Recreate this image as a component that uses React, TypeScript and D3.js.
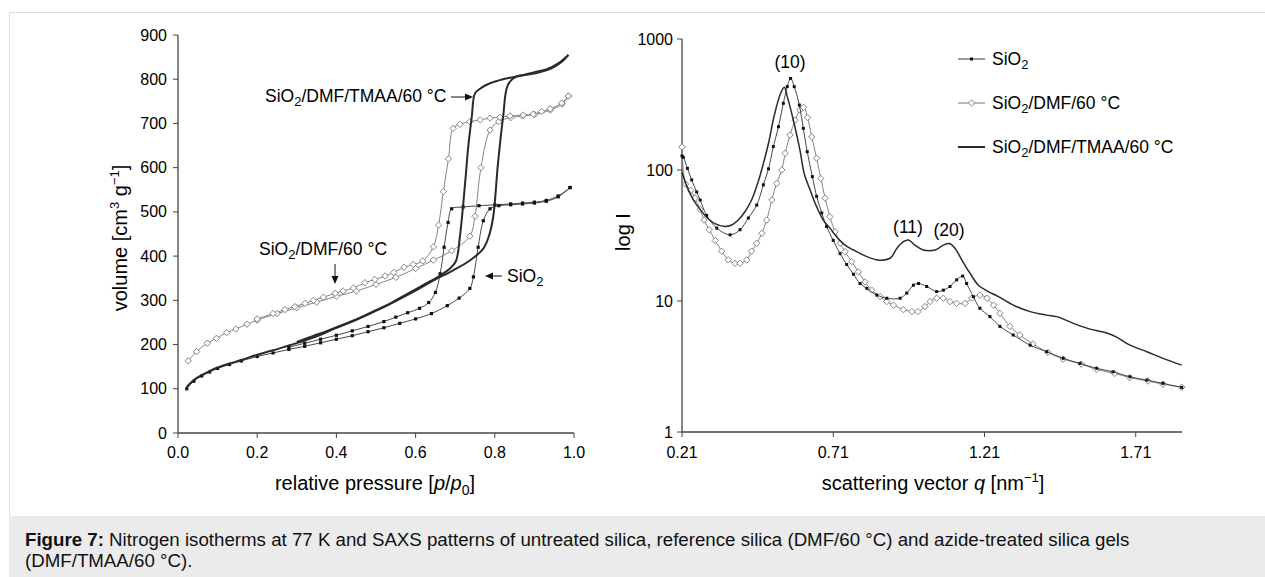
import React from "react";
import * as d3 from "d3";

// ---- isotherms (relative pressure, volume) ----
const sio2Ads: [number, number][] = [
  [0.022, 100], [0.04, 117], [0.06, 129], [0.08, 138], [0.1, 146], [0.13, 155], [0.16, 163],
  [0.2, 173], [0.24, 181], [0.28, 189], [0.32, 196], [0.36, 204], [0.4, 212], [0.44, 220],
  [0.48, 229], [0.52, 238], [0.56, 248], [0.6, 258], [0.64, 270], [0.68, 288], [0.71, 305],
  [0.737, 327], [0.746, 353], [0.758, 420], [0.771, 480], [0.788, 507], [0.81, 514],
  [0.84, 516], [0.87, 518], [0.9, 520], [0.93, 524], [0.96, 534], [0.99, 555],
];
const sio2Des: [number, number][] = [
  [0.99, 555], [0.96, 536], [0.93, 526], [0.9, 522], [0.87, 520], [0.84, 518], [0.8, 516],
  [0.76, 514], [0.72, 511], [0.691, 507], [0.682, 476], [0.672, 420], [0.662, 360],
  [0.65, 318], [0.633, 295], [0.61, 282], [0.58, 272], [0.55, 262], [0.52, 252], [0.48, 241],
  [0.44, 231], [0.4, 221], [0.36, 212], [0.32, 203], [0.28, 194],
];
const dmfAds: [number, number][] = [
  [0.026, 163], [0.047, 184], [0.074, 203], [0.097, 214], [0.123, 227], [0.146, 235],
  [0.174, 246], [0.2, 255], [0.25, 270], [0.3, 283], [0.35, 296], [0.4, 309], [0.45, 321],
  [0.5, 336], [0.55, 352], [0.6, 372], [0.645, 391], [0.691, 412], [0.737, 445], [0.75, 490],
  [0.765, 600], [0.788, 685], [0.81, 704], [0.84, 713], [0.87, 717], [0.9, 720], [0.94, 730],
  [0.97, 744], [0.986, 762],
];
const dmfDes: [number, number][] = [
  [0.986, 762], [0.969, 746], [0.94, 733], [0.918, 727], [0.897, 721], [0.872, 719],
  [0.838, 717], [0.813, 714], [0.788, 712], [0.763, 708], [0.737, 704], [0.712, 698],
  [0.695, 689], [0.683, 620], [0.67, 546], [0.658, 470], [0.645, 421], [0.618, 389],
  [0.594, 381], [0.571, 375], [0.545, 363], [0.523, 355], [0.497, 347], [0.472, 340],
  [0.443, 328], [0.417, 321], [0.397, 316], [0.367, 307], [0.342, 300], [0.321, 293],
  [0.295, 286], [0.27, 279], [0.24, 270], [0.2, 258],
];
const tmaaAds: [number, number][] = [
  [0.022, 104], [0.04, 120], [0.06, 131], [0.08, 140], [0.1, 148], [0.13, 157], [0.16, 165],
  [0.2, 177], [0.24, 187], [0.28, 198], [0.32, 209], [0.36, 222], [0.4, 238], [0.44, 252],
  [0.485, 270], [0.53, 289], [0.569, 307], [0.61, 327], [0.645, 345], [0.695, 368],
  [0.737, 390], [0.771, 417], [0.785, 445], [0.796, 489], [0.808, 609], [0.821, 715],
  [0.833, 787], [0.854, 806], [0.88, 810], [0.906, 814], [0.93, 820], [0.95, 828],
  [0.97, 840], [0.986, 855],
];
const tmaaDes: [number, number][] = [
  [0.986, 855], [0.96, 836], [0.93, 822], [0.9, 816], [0.864, 808], [0.821, 800],
  [0.788, 791], [0.765, 780], [0.75, 768], [0.742, 716], [0.733, 648], [0.725, 565],
  [0.712, 445], [0.702, 389], [0.687, 372], [0.66, 355], [0.62, 335], [0.58, 315],
  [0.54, 295], [0.5, 278], [0.46, 261], [0.42, 246], [0.38, 232], [0.34, 219], [0.3, 206],
];

// ---- SAXS (q, intensity) ----
const sio2Saxs: [number, number][] = [
  [0.21, 128], [0.2144, 125], [0.228, 103], [0.242, 84], [0.2585, 68], [0.27, 59], [0.2916, 45],
  [0.325, 36], [0.369, 32], [0.402, 35], [0.4293, 43], [0.457, 54], [0.479, 77], [0.496, 102],
  [0.512, 151], [0.529, 214], [0.545, 323], [0.558, 433], [0.569, 500], [0.581, 433],
  [0.598, 313], [0.611, 208], [0.624, 138], [0.641, 89], [0.655, 63], [0.672, 47], [0.688, 37],
  [0.71, 29], [0.7325, 23], [0.7545, 19], [0.777, 16], [0.7986, 13.6], [0.821, 12.5],
  [0.854, 11.1], [0.887, 10.5], [0.931, 10.5], [0.953, 11.5], [0.975, 13.2], [0.992, 13.6],
  [1.019, 12.9], [1.052, 11.8], [1.074, 12.1], [1.096, 12.9], [1.118, 14.5], [1.138, 15.5],
  [1.151, 13.6], [1.173, 10.8], [1.195, 8.8], [1.228, 7.6], [1.261, 6.4], [1.305, 5.5],
  [1.361, 4.6], [1.416, 4.1], [1.47, 3.65], [1.526, 3.34], [1.581, 3.06], [1.635, 2.88],
  [1.691, 2.64], [1.747, 2.49], [1.8, 2.35], [1.862, 2.19],
];
const dmfSaxs: [number, number][] = [
  [0.21, 150], [0.222, 78], [0.239, 70], [0.253, 61], [0.27, 50], [0.283, 41.5], [0.3, 35],
  [0.32, 29], [0.341, 24], [0.363, 20.6], [0.385, 19.4], [0.402, 19.4], [0.424, 20.6],
  [0.44, 24], [0.457, 27.6], [0.474, 32.9], [0.49, 41.5], [0.507, 59], [0.523, 79], [0.54, 100],
  [0.551, 134], [0.567, 185], [0.584, 240], [0.6, 287], [0.612, 301], [0.625, 252],
  [0.639, 179], [0.655, 123], [0.669, 86], [0.683, 61], [0.699, 44], [0.716, 33.8],
  [0.733, 27.6], [0.749, 23.8], [0.771, 20], [0.793, 16.7], [0.815, 14], [0.837, 12.1],
  [0.865, 10.8], [0.887, 9.9], [0.909, 9.3], [0.942, 8.6], [0.97, 8.3], [0.99, 8.3],
  [1.013, 9.06], [1.03, 9.9], [1.052, 10.5], [1.074, 10.5], [1.096, 9.9], [1.118, 9.6],
  [1.146, 9.6], [1.168, 10.5], [1.195, 11.1], [1.218, 10.5], [1.24, 9.3], [1.261, 8.05],
  [1.294, 6.4], [1.327, 5.5], [1.37, 4.7], [1.42, 4.05], [1.47, 3.6], [1.53, 3.3], [1.58, 3.0],
  [1.64, 2.8], [1.69, 2.6], [1.75, 2.45], [1.8, 2.32], [1.862, 2.2],
];
const tmaaSaxs: [number, number][] = [
  [0.21, 96], [0.226, 75], [0.248, 59], [0.27, 50], [0.29, 44], [0.319, 39], [0.352, 37],
  [0.374, 38], [0.396, 41.5], [0.418, 48], [0.44, 59], [0.462, 81.5], [0.479, 112],
  [0.496, 160], [0.514, 255], [0.534, 374], [0.548, 428], [0.558, 363], [0.578, 241],
  [0.6, 142], [0.614, 94], [0.634, 70], [0.655, 52.5], [0.677, 41.5], [0.699, 36],
  [0.721, 31], [0.749, 26.7], [0.777, 24.5], [0.81, 22.4], [0.854, 20.6], [0.898, 21.2],
  [0.92, 25.2], [0.942, 28.4], [0.959, 29.2], [0.98, 26.7], [1.008, 24.5], [1.047, 24.5],
  [1.074, 26.7], [1.094, 27.5], [1.113, 25.2], [1.135, 20.6], [1.162, 16.3], [1.19, 13.2],
  [1.223, 11.8], [1.256, 10.8], [1.305, 9.3], [1.361, 8.3], [1.416, 7.8], [1.449, 7.6],
  [1.504, 6.75], [1.559, 6.1], [1.614, 5.7], [1.647, 5.3], [1.691, 4.6], [1.747, 4.1],
  [1.8, 3.65], [1.862, 3.24],
];

const leftXTicks = [0, 0.2, 0.4, 0.6, 0.8, 1.0];
const leftYTicks = [0, 100, 200, 300, 400, 500, 600, 700, 800, 900];
const rightXTicks = [0.21, 0.71, 1.21, 1.71];
const rightYTicks = [1, 10, 100, 1000];

const FONT = "'Liberation Sans', Arial, sans-serif";
const AXIS = "#444";
const DIAMOND = "M0,-3.2L3.2,0L0,3.2L-3.2,0Z";

const App = () => {
  const W = 1265;
  const H = 577;

  const xL = d3.scaleLinear().domain([0, 1]).range([178, 574]);
  const yL = d3.scaleLinear().domain([0, 900]).range([433, 35]);
  const xR = d3.scaleLinear().domain([0.21, 1.863]).range([682, 1182]);
  const yR = d3.scaleLog().domain([1, 1000]).range([432, 39]);

  const lineL = d3.line<[number, number]>().x(d => xL(d[0])).y(d => yL(d[1])).curve(d3.curveCatmullRom);
  const lineR = d3.line<[number, number]>().x(d => xR(d[0])).y(d => yR(d[1])).curve(d3.curveCatmullRom);

  const squares = (data: [number, number][], sx: any, sy: any, s = 3.2) =>
    data.map((d, i) => (
      <rect key={i} x={sx(d[0]) - s / 2} y={sy(d[1]) - s / 2} width={s} height={s} fill="#111" />
    ));
  const diamonds = (data: [number, number][], sx: any, sy: any) =>
    data.map((d, i) => (
      <path key={i} d={DIAMOND} transform={`translate(${sx(d[0])},${sy(d[1])})`}
        fill="#fff" stroke="#777" strokeWidth={0.9} />
    ));

  const tickFont = 16;
  const labFont = 17.5;
  const titleFont = 20;
  const capFont = 18.7;

  return (
    <svg width={W} height={H} style={{ position: "absolute", left: 0, top: 0, background: "#fff" }}
      fontFamily={FONT}>
      {/* frame and caption */}
      <rect x={9.5} y={12.5} width={W} height={H} fill="none" stroke="#dedede" />
      <rect x={9} y={516} width={W} height={H - 516} fill="#ebebeb" />
      <text x={25} y={546} fontSize={capFont} fill="#111">
        <tspan fontWeight="bold">Figure 7:</tspan>
        <tspan> Nitrogen isotherms at 77 K and SAXS patterns of untreated silica, reference silica (DMF/60 °C) and azide-treated silica gels</tspan>
      </text>
      <text x={25} y={567} fontSize={capFont} fill="#111">(DMF/TMAA/60 °C).</text>

      {/* ---------- left chart ---------- */}
      <g>
        <line x1={178} x2={574} y1={433} y2={433} stroke={AXIS} strokeWidth={1.3} />
        <line x1={178} x2={178} y1={35} y2={433} stroke={AXIS} strokeWidth={1.3} />
        {leftXTicks.map(t => (
          <g key={t}>
            <line x1={xL(t)} x2={xL(t)} y1={433} y2={438} stroke={AXIS} />
            <text x={xL(t)} y={458} textAnchor="middle" fontSize={tickFont}>{t.toFixed(1)}</text>
          </g>
        ))}
        {leftYTicks.map(t => (
          <g key={t}>
            <line x1={173} x2={178} y1={yL(t)} y2={yL(t)} stroke={AXIS} />
            <text x={167} y={yL(t) + 5.5} textAnchor="end" fontSize={tickFont}>{t}</text>
          </g>
        ))}
        <text x={375} y={490} textAnchor="middle" fontSize={titleFont}>
          relative pressure [<tspan fontStyle="italic">p</tspan>/<tspan fontStyle="italic">p</tspan>
          <tspan dy={5} fontSize={14}>0</tspan><tspan dy={-5}>]</tspan>
        </text>
        <text transform="translate(127,238) rotate(-90)" textAnchor="middle" fontSize={titleFont}>
          volume [cm<tspan dy={-8} fontSize={13}>3</tspan><tspan dy={8}> g</tspan>
          <tspan dy={-8} fontSize={13}>−1</tspan><tspan dy={8}>]</tspan>
        </text>

        <path d={lineL(sio2Ads) ?? ""} fill="none" stroke="#333" strokeWidth={0.9} />
        <path d={lineL(sio2Des) ?? ""} fill="none" stroke="#333" strokeWidth={0.9} />
        {squares(sio2Ads, xL, yL)}
        {squares(sio2Des, xL, yL)}
        <path d={lineL(dmfAds) ?? ""} fill="none" stroke="#777" strokeWidth={0.9} />
        <path d={lineL(dmfDes) ?? ""} fill="none" stroke="#777" strokeWidth={0.9} />
        {diamonds(dmfAds, xL, yL)}
        {diamonds(dmfDes, xL, yL)}
        <path d={lineL(tmaaAds) ?? ""} fill="none" stroke="#2a2a2a" strokeWidth={2} />
        <path d={lineL(tmaaDes) ?? ""} fill="none" stroke="#2a2a2a" strokeWidth={2} />

        {/* annotations */}
        <text x={265} y={102} fontSize={labFont}>
          SiO<tspan dy={4} fontSize={13}>2</tspan><tspan dy={-4}>/DMF/TMAA/60 °C</tspan>
        </text>
        <line x1={451} x2={466} y1={97} y2={97} stroke="#111" />
        <polygon points="473,97 465,93.5 465,100.5" fill="#111" />
        <text x={259} y={255} fontSize={labFont}>
          SiO<tspan dy={4} fontSize={13}>2</tspan><tspan dy={-4}>/DMF/60 °C</tspan>
        </text>
        <line x1={335} x2={335} y1={264} y2={277} stroke="#111" />
        <polygon points="335,284 331.5,276 338.5,276" fill="#111" />
        <line x1={502} x2={492} y1={276} y2={276} stroke="#111" />
        <polygon points="485,276 493,272.5 493,279.5" fill="#111" />
        <text x={507} y={282} fontSize={labFont}>
          SiO<tspan dy={4} fontSize={13}>2</tspan>
        </text>
      </g>

      {/* ---------- right chart ---------- */}
      <g>
        <line x1={682} x2={1182} y1={432} y2={432} stroke={AXIS} strokeWidth={1.3} />
        <line x1={682} x2={682} y1={39} y2={432} stroke={AXIS} strokeWidth={1.3} />
        {rightXTicks.map(t => (
          <g key={t}>
            <line x1={xR(t)} x2={xR(t)} y1={432} y2={437} stroke={AXIS} />
            <text x={xR(t)} y={458} textAnchor="middle" fontSize={tickFont}>{t.toFixed(2)}</text>
          </g>
        ))}
        {rightYTicks.map(t => (
          <g key={t}>
            <line x1={677} x2={682} y1={yR(t)} y2={yR(t)} stroke={AXIS} />
            <text x={673} y={yR(t) + 5.5} textAnchor="end" fontSize={tickFont}>{t}</text>
          </g>
        ))}
        <text x={933} y={490} textAnchor="middle" fontSize={titleFont}>
          scattering vector <tspan fontStyle="italic">q</tspan> [nm<tspan dy={-8} fontSize={13}>−1</tspan>
          <tspan dy={8}>]</tspan>
        </text>
        <text transform="translate(630,232) rotate(-90)" textAnchor="middle" fontSize={titleFont}>log I</text>

        <path d={lineR(dmfSaxs) ?? ""} fill="none" stroke="#777" strokeWidth={0.9} />
        {diamonds(dmfSaxs, xR, yR)}
        <path d={lineR(sio2Saxs) ?? ""} fill="none" stroke="#333" strokeWidth={0.9} />
        {squares(sio2Saxs, xR, yR, 3)}
        <path d={lineR(tmaaSaxs) ?? ""} fill="none" stroke="#2a2a2a" strokeWidth={1.5} />

        <text x={790} y={68} textAnchor="middle" fontSize={labFont}>(10)</text>
        <text x={908} y={233} textAnchor="middle" fontSize={labFont}>(11)</text>
        <text x={949} y={236} textAnchor="middle" fontSize={labFont}>(20)</text>

        {/* legend */}
        <line x1={958} x2={985} y1={59} y2={59} stroke="#333" />
        <rect x={970} y={57.5} width={3} height={3} fill="#111" />
        <text x={992} y={65} fontSize={labFont}>
          SiO<tspan dy={4} fontSize={13}>2</tspan>
        </text>
        <line x1={958} x2={985} y1={103} y2={103} stroke="#777" />
        <path d={DIAMOND} transform="translate(971.5,103)" fill="#fff" stroke="#777" strokeWidth={0.9} />
        <text x={992} y={109} fontSize={labFont}>
          SiO<tspan dy={4} fontSize={13}>2</tspan><tspan dy={-4}>/DMF/60 °C</tspan>
        </text>
        <line x1={958} x2={985} y1={147} y2={147} stroke="#2a2a2a" strokeWidth={2} />
        <text x={992} y={153} fontSize={labFont}>
          SiO<tspan dy={4} fontSize={13}>2</tspan><tspan dy={-4}>/DMF/TMAA/60 °C</tspan>
        </text>
      </g>
    </svg>
  );
};

export default App;
